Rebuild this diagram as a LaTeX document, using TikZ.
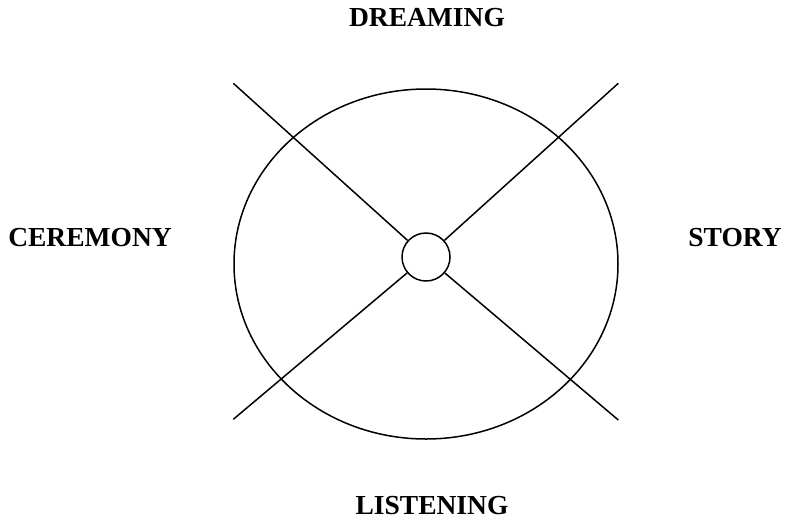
\documentclass[tikz,border=0pt]{standalone}
\usepackage{fontspec}
\setmainfont{Liberation Serif}
\begin{document}
\begin{tikzpicture}[x=1pt,y=-1pt,
  lbl/.style={font=\fontsize{27.5}{32}\selectfont\bfseries, inner sep=0pt},
  ln/.style={line width=1.5pt}]
\useasboundingbox (0,0) rectangle (787,523);
\draw[ln] (426,264) ellipse [x radius=192, y radius=175];
\node[ln, draw, circle, minimum size=48pt, inner sep=0pt] (c) at (426,257) {};
\coordinate (tl) at (233.3,83.3);
\coordinate (tr) at (618.3,83.3);
\coordinate (bl) at (233.3,419.3);
\coordinate (br) at (618.3,420);
\draw[ln] (tl) -- (c);
\draw[ln] (tr) -- (c);
\draw[ln] (bl) -- (c);
\draw[ln] (br) -- (c);
\node[lbl] (d) at (427,17.5) {DREAMING};
\node[lbl] (ce) at (90,238) {CEREMONY};
\node[lbl] (s) at (735,238) {STORY};
\node[lbl] (l) at (432,506) {LISTENING};
\end{tikzpicture}
\end{document}
